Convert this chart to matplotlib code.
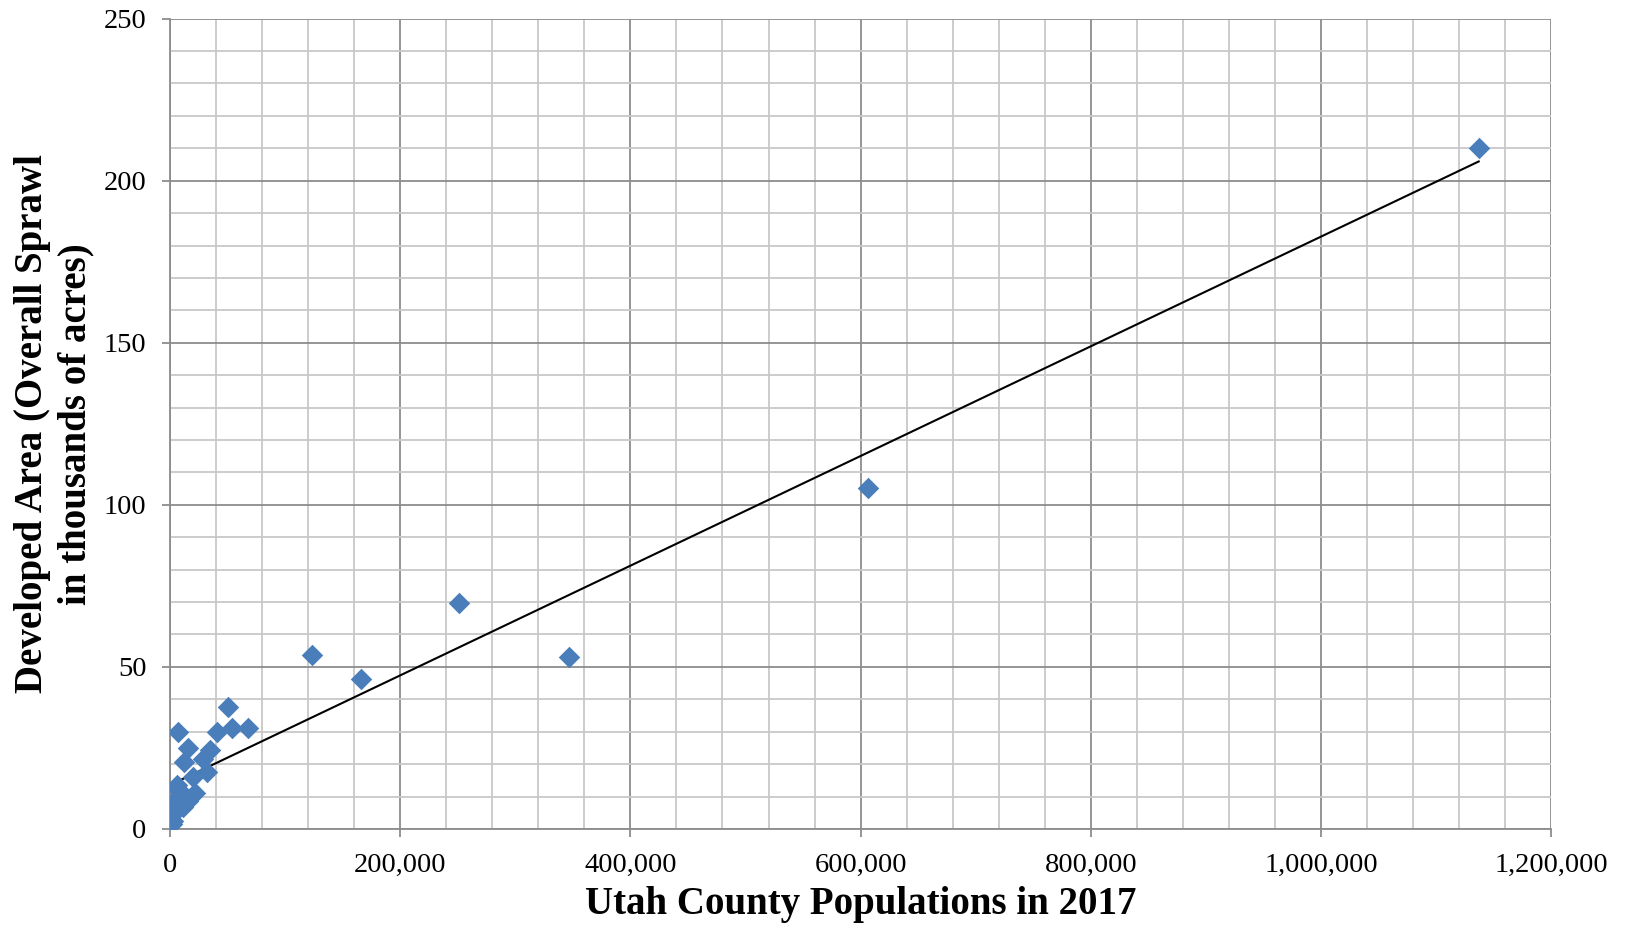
import numpy as np
from matplotlib import pyplot as plt
from matplotlib.ticker import MultipleLocator, FuncFormatter

# County populations (2017) and developed area (thousands of acres)
population = [1137000, 606500, 346800, 251300, 165600, 123800,
              67500, 53600, 50600, 40500, 34700, 31800, 28900,
              21700, 20200, 15400, 13000, 12400, 11600, 7200,
              5800, 2900, 1000, 1500, 9800, 4500, 2400, 7000, 16000]
developed = [210.1, 105.2, 53.2, 69.8, 46.2, 53.8,
             31.1, 31.1, 37.5, 29.8, 24.4, 17.5, 21.6,
             11.1, 16.0, 25.0, 10.3, 20.6, 6.7, 29.8,
             13.6, 8.2, 4.1, 1.5, 9.0, 5.5, 2.5, 12.0, 8.5]

x_label = 'Utah County Populations in 2017'
y_label = 'Developed Area (Overall Sprawl\nin thousands of acres)'


def main():
    plt.rcParams['font.family'] = ['Liberation Serif', 'DejaVu Serif']
    fig = plt.figure(figsize=(16.25, 9.33), dpi=100)
    ax = fig.add_axes([0.1046, 0.1115, 0.8500, 0.8685])

    xs = np.array(population, dtype=float)
    ys = np.array(developed, dtype=float)

    # linear trend line over the data range
    slope, intercept = np.polyfit(xs, ys, 1)
    tx = np.array([xs.min(), xs.max()])
    ax.plot(tx, slope * tx + intercept, color='black', lw=1.5, zorder=3)

    ax.scatter(xs, ys, marker='D', s=120, color='#4A7EBB', linewidths=0, zorder=4)

    ax.set_xlim(0, 1200000)
    ax.set_ylim(0, 250)
    ax.xaxis.set_major_locator(MultipleLocator(200000))
    ax.xaxis.set_minor_locator(MultipleLocator(40000))
    ax.yaxis.set_major_locator(MultipleLocator(50))
    ax.yaxis.set_minor_locator(MultipleLocator(10))
    ax.xaxis.set_major_formatter(FuncFormatter(lambda v, p: f'{int(v):,}'))

    ax.grid(which='minor', color='#C8C8C8', lw=1.3, zorder=0)
    ax.grid(which='major', color='#8C8C8C', lw=1.3, zorder=1)
    ax.set_axisbelow(True)

    for side in ['top', 'right']:
        ax.spines[side].set_visible(False)
    for side in ['left', 'bottom']:
        ax.spines[side].set_color('#8C8C8C')
        ax.spines[side].set_linewidth(1.3)

    ax.tick_params(which='major', length=6, width=1.3, color='#8C8C8C',
                   labelsize=20.5, pad=11)
    ax.tick_params(which='minor', length=0)

    ax.set_xlabel(x_label, fontsize=28, fontweight='bold')
    ax.xaxis.set_label_coords(0.5, -0.07)
    ax.set_ylabel(y_label, fontsize=28, fontweight='bold')
    ax.yaxis.set_label_coords(-0.055, 0.5)

    fig.savefig('out.png', dpi=100)


if __name__ == '__main__':
    main()
